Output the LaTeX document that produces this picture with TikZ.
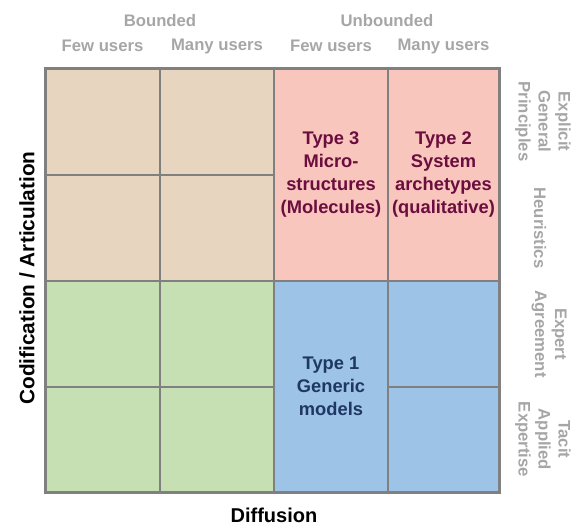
\documentclass[tikz,border=0pt]{standalone}
\usepackage{fontspec}
\setmainfont{Liberation Sans}

\definecolor{tancell}{HTML}{E7D5C0}
\definecolor{pinkcell}{HTML}{F8C6BD}
\definecolor{greencell}{HTML}{C6E0B4}
\definecolor{bluecell}{HTML}{9DC3E6}
\definecolor{gridgray}{HTML}{808080}
\definecolor{labelgray}{HTML}{A6A6A6}
\definecolor{maroontext}{HTML}{6B0D3E}
\definecolor{navytext}{HTML}{1F3763}

\tikzset{
  cell/.style={draw=gridgray, line width=1.5pt, inner sep=0pt, outer sep=0pt, rectangle},
  typetext/.style={align=center, font=\fontsize{18.3}{23}\selectfont\bfseries},
  graylabel/.style={text=labelgray, align=center, inner sep=0pt, font=\fontsize{16.7}{20}\selectfont\bfseries},
  axislabel/.style={text=black, inner sep=0pt, font=\fontsize{20}{23}\selectfont\bfseries}
}

\begin{document}
\begin{tikzpicture}[x=1pt, y=-1pt]
\useasboundingbox (0,0) rectangle (579,525);

% bounded region: four single cells in each half
\node[cell, fill=tancell, minimum width=115, minimum height=107] (b11) at (102.5,121.5) {};
\node[cell, fill=tancell, minimum width=114, minimum height=107] (b12) at (217,121.5) {};
\node[cell, fill=tancell, minimum width=115, minimum height=106] (b21) at (102.5,228) {};
\node[cell, fill=tancell, minimum width=114, minimum height=106] (b22) at (217,228) {};
\node[cell, fill=greencell, minimum width=115, minimum height=106] (b31) at (102.5,334) {};
\node[cell, fill=greencell, minimum width=114, minimum height=106] (b32) at (217,334) {};
\node[cell, fill=greencell, minimum width=115, minimum height=105] (b41) at (102.5,439.5) {};
\node[cell, fill=greencell, minimum width=114, minimum height=105] (b42) at (217,439.5) {};

% unbounded region
\node[cell, fill=pinkcell, text=maroontext, typetext, minimum width=114, minimum height=213] (type3) at (331,174.5)
  {Type 3\\Micro-\\structures\\(Molecules)};
\node[cell, fill=pinkcell, text=maroontext, typetext, minimum width=111, minimum height=213] (type2) at (443.5,174.5)
  {Type 2\\System\\archetypes\\(qualitative)};
\node[cell, fill=bluecell, text=navytext, typetext, minimum width=114, minimum height=211] (type1) at (331,386.5)
  {Type 1\\Generic\\models};
\node[cell, fill=bluecell, minimum width=111, minimum height=106] (u34) at (443.5,334) {};
\node[cell, fill=bluecell, minimum width=111, minimum height=105] (u44) at (443.5,439.5) {};

% heavy outer frame
\draw[gridgray, line width=3pt] (b11.north west) rectangle (u44.south east);

% column headings
\node[graylabel] (bounded) at (160,21) {Bounded};
\node[graylabel] (unbounded) at (387,21) {Unbounded};
\node[graylabel] (few1) at (102.5,46) {Few users};
\node[graylabel] (many1) at (217,46) {Many users};
\node[graylabel] (few2) at (331,46) {Few users};
\node[graylabel] (many2) at (443.5,46) {Many users};

% row headings
\node[graylabel, rotate=-90] (explicit) at (543,121.5) {Explicit\\General\\Principles};
\node[graylabel, rotate=-90] (heur) at (540,228) {Heuristics};
\node[graylabel, rotate=-90] (expert) at (549,334) {Expert\\Agreement};
\node[graylabel, rotate=-90] (tacit) at (543,439.5) {Tacit\\Applied\\Expertise};

% axis titles
\node[axislabel, rotate=90, font=\fontsize{20.8}{23}\selectfont\bfseries] (codif) at (27,278) {Codification / Articulation};
\node[axislabel] (diffusion) at (274,515) {Diffusion};
\end{tikzpicture}
\end{document}
